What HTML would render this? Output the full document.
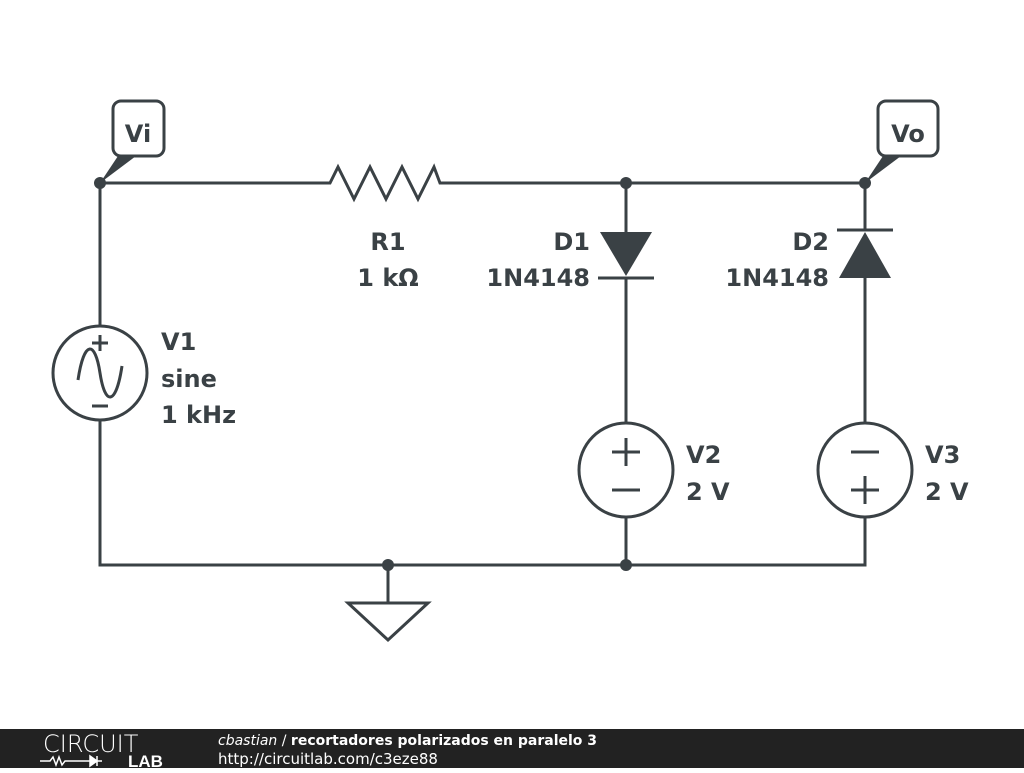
<!DOCTYPE html>
<html><head><style>
body{margin:0;width:1024px;height:768px;background:#fff;overflow:hidden;font-family:"Liberation Sans","DejaVu Sans",sans-serif}
</style></head><body>
<svg width="1024" height="768" viewBox="0 0 1024 768" xmlns="http://www.w3.org/2000/svg">
<g stroke="#3a4145" stroke-width="3" fill="none">
<path d="M100 183H330l8-16 16 32 16-32 16 32 16-32 16 32 16-32 6 16H865"/>
<path d="M100 183V326M100 420V565H865V517M626 183V232M626 278V423M626 517V565M865 183V230M865 278V423"/>
<circle cx="100" cy="373" r="47"/>
<circle cx="626" cy="470" r="47"/>
<circle cx="865" cy="470" r="47"/>
<path d="M78 380C84 340 95 340 100 373S116 406 122 366" />
<path d="M92 343h16M100 335v16M92 406h16"/>
<path d="M612 452h28M626 438v28M612 490h28"/>
<path d="M851 452h28M851 490h28M865 476v28"/>
<path d="M598 278h56M837 230h56"/>
<path d="M388 565V603M348 603h80L388 640Z"/>
<rect x="113" y="101" width="51" height="55" rx="8"/>
<rect x="878" y="101" width="60" height="55" rx="8"/>
</g>
<g fill="#3a4145">
<path d="M600 232h52l-26 44Z"/>
<path d="M839 278h52l-26-46Z"/>
<path d="M100 183L118 156h18Z"/>
<path d="M865 183L883 156h18Z"/>
<circle cx="100" cy="183" r="6"/><circle cx="626" cy="183" r="6"/><circle cx="865" cy="183" r="6"/>
<circle cx="388" cy="565" r="6"/><circle cx="626" cy="565" r="6"/>
</g>
<g fill="#3a4145" font-weight="bold" font-size="24" font-family="'DejaVu Sans',sans-serif">
<text x="138" y="142" text-anchor="middle">Vi</text>
<text x="908" y="142" text-anchor="middle">Vo</text>
<text x="388" y="250" text-anchor="middle">R1</text>
<text x="388" y="286" text-anchor="middle">1 kΩ</text>
<text x="590" y="250" text-anchor="end">D1</text>
<text x="590" y="286" text-anchor="end">1N4148</text>
<text x="829" y="250" text-anchor="end">D2</text>
<text x="829" y="286" text-anchor="end">1N4148</text>
<text x="161" y="350">V1</text>
<text x="161" y="387">sine</text>
<text x="161" y="423">1 kHz</text>
<text x="686" y="463">V2</text>
<text x="686" y="500">2 V</text>
<text x="925" y="463">V3</text>
<text x="925" y="500">2 V</text>
</g>
<rect x="0" y="729" width="1024" height="39" fill="#222"/>
<text x="43" y="752" fill="#fff" font-size="24" font-family="'DejaVu Sans',sans-serif" font-weight="200">CIRCUIT</text>
<path d="M40 761h10l3-4 3 8 3-8 3 8 3-4h12" stroke="#fff" stroke-width="1.5" fill="none"/>
<path d="M77 761h25M90 756v10l7-5ZM97 756v10" stroke="#fff" stroke-width="1.5" fill="#fff"/>
<text x="128" y="767" fill="#fff" font-size="17" font-weight="bold">LAB</text>
<text x="218" y="745" fill="#fff" font-size="14" font-family="'DejaVu Sans',sans-serif"><tspan font-style="italic">cbastian</tspan> / <tspan font-weight="bold">recortadores polarizados en paralelo 3</tspan></text>
<text x="218" y="764" fill="#fff" font-size="15" font-family="'DejaVu Sans',sans-serif">http://circuitlab.com/c3eze88</text>
</svg>
</body></html>
